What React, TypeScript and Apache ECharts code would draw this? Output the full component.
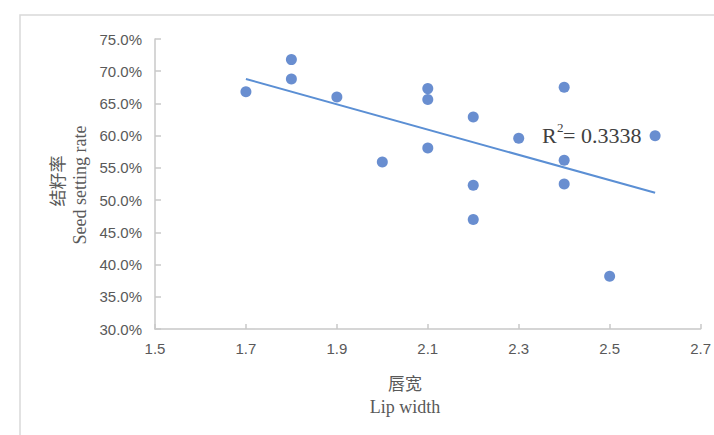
import React, { useEffect, useRef } from "react";
import * as echarts from "echarts";

// Lip width (x) and seed setting rate in % (y)
const lipWidth = [1.7, 1.8, 1.8, 1.9, 2.0, 2.1, 2.1, 2.1, 2.2, 2.2, 2.2, 2.3, 2.4, 2.4, 2.4, 2.5, 2.6];
const seedSettingRate = [66.8, 71.8, 68.8, 66.0, 55.9, 67.3, 65.6, 58.1, 62.9, 52.3, 47.0, 59.6, 67.5, 56.2, 52.5, 38.2, 60.0];

const xMin = 1.5;
const xMax = 2.7;
const xStep = 0.2;
const yMin = 30;
const yMax = 75;
const yStep = 5;

const rSquaredText = "= 0.3338";
const xTitleCn = "唇宽";
const xTitleEn = "Lip width";
const yTitleCn = "结籽率";
const yTitleEn = "Seed setting rate";

function linearFit(xs: number[], ys: number[]) {
  const n = xs.length;
  const mx = xs.reduce((a, b) => a + b, 0) / n;
  const my = ys.reduce((a, b) => a + b, 0) / n;
  let sxy = 0;
  let sxx = 0;
  for (let i = 0; i < n; i++) {
    sxy += (xs[i] - mx) * (ys[i] - my);
    sxx += (xs[i] - mx) * (xs[i] - mx);
  }
  const slope = sxy / sxx;
  return { slope, intercept: my - slope * mx };
}

export default function App() {
  const ref = useRef<HTMLDivElement>(null);

  useEffect(() => {
    if (!ref.current) return;
    const chart = echarts.init(ref.current, null, { renderer: "svg" });
    const fit = linearFit(lipWidth, seedSettingRate);
    const x0 = Math.min(...lipWidth);
    const x1 = Math.max(...lipWidth);
    const trend = [
      [x0, fit.intercept + fit.slope * x0],
      [x1, fit.intercept + fit.slope * x1],
    ];
    const labelColor = "#595959";
    const axisColor = "#c8c8c8";

    chart.setOption({
      animation: false,
      backgroundColor: "#ffffff",
      grid: { left: 155, top: 39, width: 551, height: 290, containLabel: false },
      xAxis: {
        type: "value",
        min: xMin,
        max: xMax,
        interval: xStep,
        axisLine: { show: true, lineStyle: { color: axisColor, width: 1.5 } },
        axisTick: { show: true, inside: true, length: 5, lineStyle: { color: axisColor, width: 1.5 } },
        splitLine: { show: false },
        axisLabel: {
          color: labelColor,
          fontSize: 15,
          fontFamily: "Liberation Sans",
          margin: 12,
          formatter: (v: number) => v.toFixed(1),
        },
      },
      yAxis: {
        type: "value",
        min: yMin,
        max: yMax,
        interval: yStep,
        axisLine: { show: true, lineStyle: { color: axisColor, width: 1.5 } },
        axisTick: { show: true, inside: true, length: 6, lineStyle: { color: axisColor, width: 1.5 } },
        splitLine: { show: false },
        axisLabel: {
          color: labelColor,
          fontSize: 15,
          fontFamily: "Liberation Sans",
          margin: 13,
          formatter: (v: number) => v.toFixed(1) + "%",
        },
      },
      series: [
        {
          type: "scatter",
          data: lipWidth.map((x, i) => [x, seedSettingRate[i]]),
          symbol: "circle",
          symbolSize: 11,
          itemStyle: { color: "#4472C4" },
          z: 2,
        },
        {
          type: "line",
          data: trend,
          showSymbol: false,
          symbol: "none",
          lineStyle: { color: "#5B8FD4", width: 2 },
          z: 3,
        },
      ],
      graphic: [
        {
          type: "rect",
          shape: { x: 20, y: 15, width: 900, height: 600 },
          style: { fill: "none", stroke: "#d9d9d9", lineWidth: 1.5 },
          silent: true,
          z: -1,
        },
        {
          type: "text",
          x: 405,
          y: 382,
          style: {
            text: xTitleCn,
            fontSize: 17,
            fontFamily: "Noto Sans CJK SC",
            fill: labelColor,
            textAlign: "center",
            textVerticalAlign: "middle",
          },
        },
        {
          type: "text",
          x: 405,
          y: 407,
          style: {
            text: xTitleEn,
            fontSize: 18,
            fontFamily: "Liberation Serif",
            fill: labelColor,
            textAlign: "center",
            textVerticalAlign: "middle",
          },
        },
        {
          type: "text",
          x: 56,
          y: 181,
          rotation: Math.PI / 2,
          style: {
            text: yTitleCn,
            fontSize: 17,
            fontFamily: "Noto Sans CJK SC",
            fill: labelColor,
            textAlign: "center",
            textVerticalAlign: "middle",
          },
        },
        {
          type: "text",
          x: 80,
          y: 185,
          rotation: Math.PI / 2,
          style: {
            text: yTitleEn,
            fontSize: 18,
            fontFamily: "Liberation Serif",
            fill: labelColor,
            textAlign: "center",
            textVerticalAlign: "middle",
          },
        },
        {
          type: "text",
          x: 542,
          y: 135,
          style: {
            text: "R",
            fontSize: 22,
            fontFamily: "Liberation Serif",
            fill: "#404040",
            textAlign: "left",
            textVerticalAlign: "middle",
          },
        },
        {
          type: "text",
          x: 557,
          y: 127,
          style: {
            text: "2",
            fontSize: 13,
            fontFamily: "Liberation Serif",
            fill: "#404040",
            textAlign: "left",
            textVerticalAlign: "middle",
          },
        },
        {
          type: "text",
          x: 563,
          y: 135,
          style: {
            text: rSquaredText,
            fontSize: 22,
            fontFamily: "Liberation Serif",
            fill: "#404040",
            textAlign: "left",
            textVerticalAlign: "middle",
          },
        },
      ],
    });
    return () => chart.dispose();
  }, []);

  return (
    <div
      ref={ref}
      style={{ position: "fixed", left: 0, top: 0, width: 714, height: 435 }}
    />
  );
}
